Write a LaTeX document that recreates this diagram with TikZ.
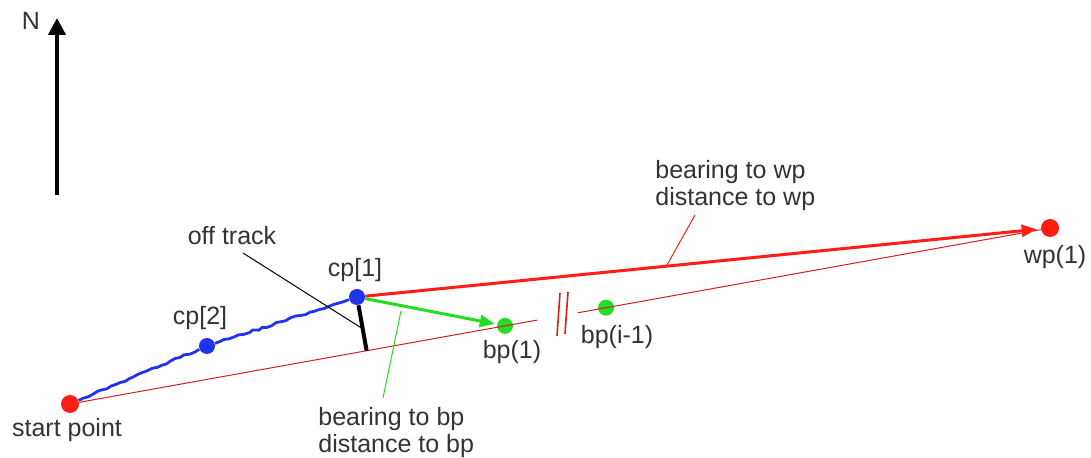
\documentclass[tikz,border=0pt]{standalone}
\usepackage{fontspec}
\setmainfont{Liberation Sans}
\usetikzlibrary{arrows.meta,calc,decorations.pathmorphing}
\definecolor{ink}{HTML}{333333}
\definecolor{cred}{HTML}{FF1E14}
\definecolor{cdark}{HTML}{D02020}
\definecolor{cblue}{HTML}{2233EE}
\definecolor{cgreen}{HTML}{22DD22}
\tikzset{
  lab/.style={font=\fontsize{12.5}{13.5}\selectfont, text=ink, inner sep=0pt, align=left},
  dot/.style={circle, fill=#1, inner sep=0pt, minimum size=8pt},
  track/.style={draw=cdark, line width=0.5pt},
  lead/.style={line width=0.5pt},
  arr/.style={-{Triangle[length=7.5pt,width=6pt]}, line width=1.5pt},
  wiggle/.style={draw=cblue, line width=1.4pt, decorate,
    decoration={random steps, segment length=2.5pt, amplitude=0.5pt}},
}
\begin{document}
\begin{tikzpicture}[x=0.5pt,y=-0.5pt]
  \useasboundingbox (0,0) rectangle (1091,458);
  \pgfmathsetseed{7}
  % points
  \node[dot=cred, minimum size=9pt] (start) at (70,404) {};
  \node[dot=cred, minimum size=9pt] (wp) at (1050,228) {};
  \node[dot=cblue] (cp1) at (357,297) {};
  \node[dot=cblue] (cp2) at (207,346) {};
  \node[dot=cgreen] (bp1) at ($(start)!0.4439!(wp)$) {};
  \node[dot=cgreen] (bpi) at ($(start)!0.547!(wp)$) {};
  \coordinate (gapA) at ($(start)!0.4765!(wp)$);
  \coordinate (gapB) at ($(start)!0.518!(wp)$);
  \coordinate (foot) at ($(start)!(cp1)!(wp)$);
  % north arrow
  \coordinate (nbase) at (57,195);
  \coordinate (ntip) at (57,18);
  \draw[-{Triangle[length=8.5pt,width=8.5pt]}, line width=2pt] (nbase) -- (ntip);
  \node[lab] (north) at (31,21) {N};
  % track with break
  \draw[track] (start) -- (gapA);
  \draw[track] (gapB) -- (wp);
  \draw[cdark, line width=0.8pt] (560,293) -- (557,336) (568,292) -- (565,334);
  % travelled path
  \draw[wiggle] (start) -- (cp2) -- (cp1);
  % bearings
  \draw[arr, draw=cred, fill=cred, shorten >=2pt] (cp1) -- (wp);
  \draw[arr, draw=cgreen, fill=cgreen, shorten >=1pt] (cp1) -- (bp1);
  \draw[line width=2pt] (cp1) -- (foot);
  % labels and leaders
  \node[lab] (offlab) at (232,236) {off track};
  \coordinate (offtail) at (243,253);
  \coordinate (offtip) at (363,329);
  \draw[lead] (offtail) -- (offtip);
  \node[lab, anchor=north west] (bplab) at (318,407) {bearing to bp\\distance to bp};
  \coordinate (bptail) at (401,311);
  \coordinate (bphead) at (383,398);
  \draw[lead, cgreen] (bptail) -- (bphead);
  \node[lab, anchor=north west] (wplab) at (655,160) {bearing to wp\\distance to wp};
  \coordinate (wptail) at (667,265);
  \coordinate (wphead) at (695,215);
  \draw[lead, cred] (wptail) -- (wphead);
  \node[lab] (cp1lab) at (355,270) {cp[1]};
  \node[lab] (cp2lab) at (200,318) {cp[2]};
  \node[lab] (startlab) at (67,430) {start point};
  \node[lab] (bp1lab) at (512,352) {bp(1)};
  \node[lab] (bpilab) at (617,337) {bp(i-1)};
  \node[lab] (wplab1) at (1055,257) {wp(1)};
\end{tikzpicture}
\end{document}
